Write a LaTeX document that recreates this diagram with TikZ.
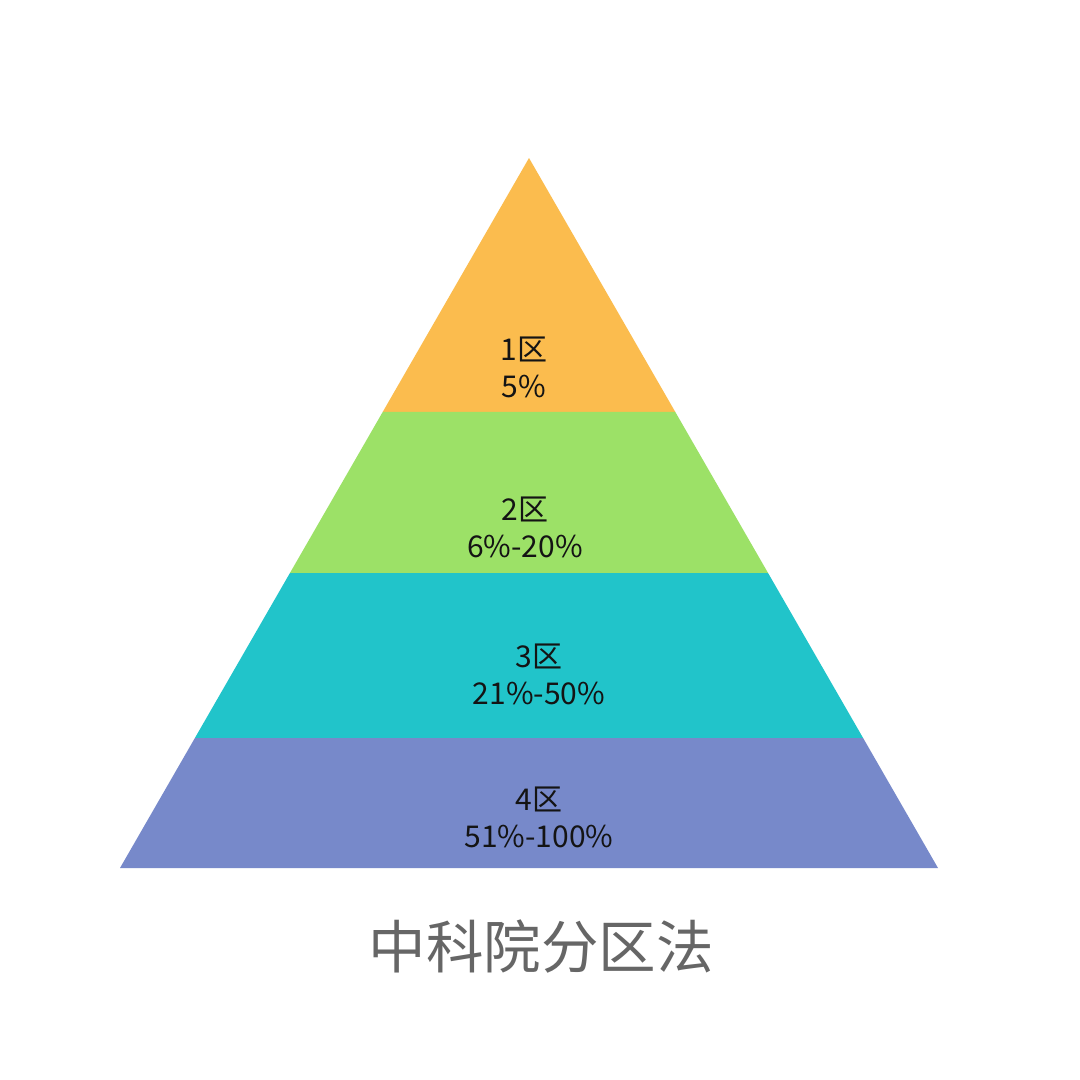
\documentclass[tikz,border=0pt]{standalone}
\usepackage{fontspec}
\setmainfont{Noto Sans CJK SC}
\usetikzlibrary{calc}
\definecolor{zoneone}{HTML}{FBBC4E}
\definecolor{zonetwo}{HTML}{9CE167}
\definecolor{zonethree}{HTML}{21C4CA}
\definecolor{zonefour}{HTML}{7789CA}
\definecolor{titlegray}{HTML}{666666}
\begin{document}
\begin{tikzpicture}[x=1pt, y=-1pt,
        label/.style={align=center, text=black!92, font=\fontsize{30}{37}\selectfont},
        band/.style={draw=none}]
    \useasboundingbox[fill=white] (0,0) rectangle (1080,1080);
    \coordinate (top) at (529,158);
    \coordinate (bl) at (120,868);
    \coordinate (br) at (938,868);
    \coordinate (l1) at ($(top)!0.3577!(bl)$);
    \coordinate (r1) at ($(top)!0.3577!(br)$);
    \coordinate (l2) at ($(top)!0.5845!(bl)$);
    \coordinate (r2) at ($(top)!0.5845!(br)$);
    \coordinate (l3) at ($(top)!0.8169!(bl)$);
    \coordinate (r3) at ($(top)!0.8169!(br)$);

    \fill[band, zoneone] (top) -- (r1) -- (l1) -- cycle;
    \fill[band, zonetwo] (l1) -- (r1) -- (r2) -- (l2) -- cycle;
    \fill[band, zonethree] (l2) -- (r2) -- (r3) -- (l3) -- cycle;
    \fill[band, zonefour] (l3) -- (r3) -- (br) -- (bl) -- cycle;

    \node[style=label] (z1) at (524,367) {1区\\5\%};
    \node[style=label] (z2) at (525,527) {2区\\6\%-20\%};
    \node[style=label] (z3) at (539,674) {3区\\21\%-50\%};
    \node[style=label] (z4) at (539,817) {4区\\51\%-100\%};

    \node[text=titlegray, font=\fontsize{57.5}{60}\selectfont] (title) at (541,946) {中科院分区法};
\end{tikzpicture}
\end{document}
